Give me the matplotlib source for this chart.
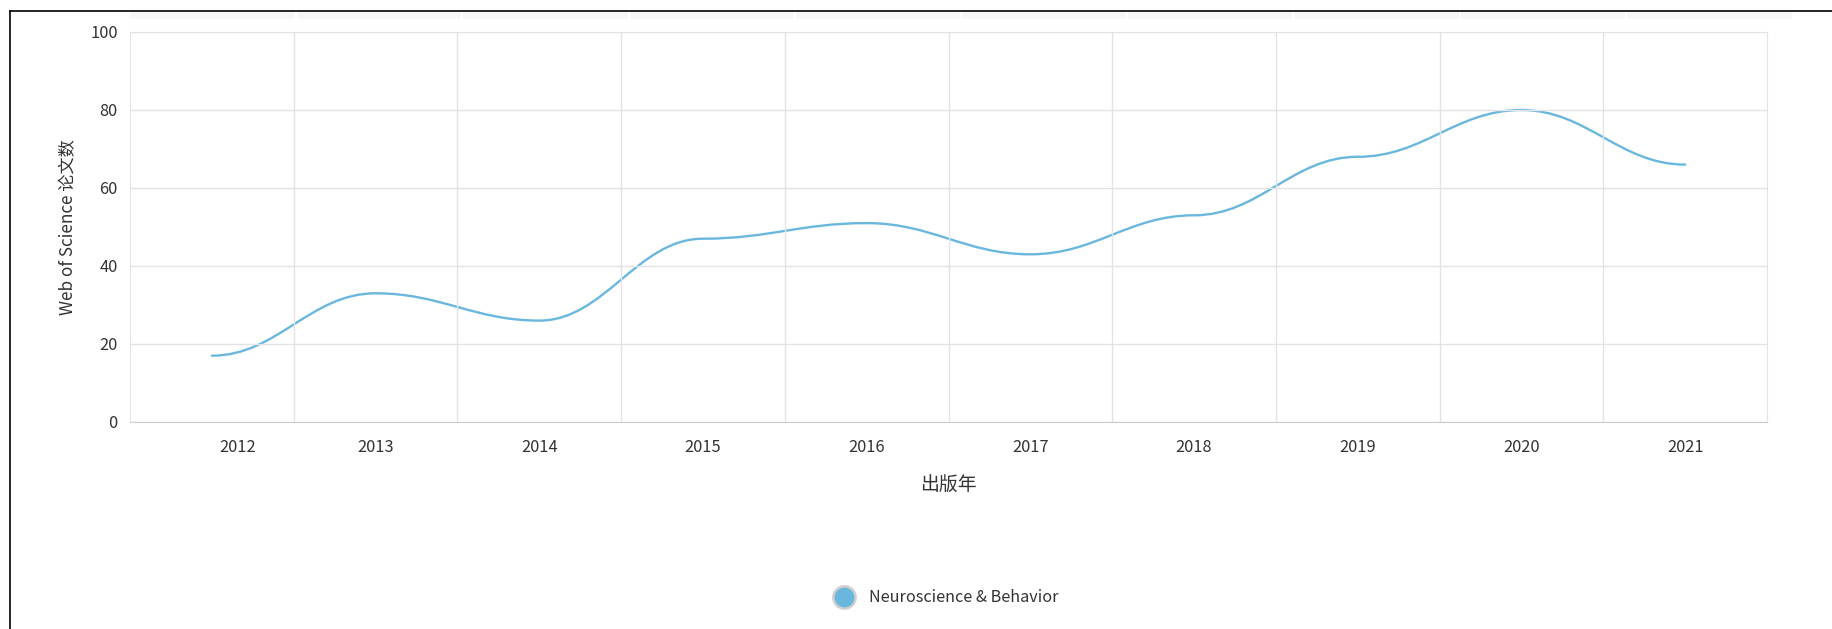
import matplotlib
matplotlib.use('Agg')
import matplotlib.pyplot as plt
from matplotlib.path import Path
from matplotlib.patches import PathPatch
from matplotlib.lines import Line2D
from matplotlib.transforms import ScaledTranslation

plt.rcParams['font.family'] = ['Noto Sans CJK SC', 'DejaVu Sans']

years = ['2012', '2013', '2014', '2015', '2016', '2017', '2018', '2019', '2020', '2021']
papers = [17, 33, 26, 47, 51, 43, 53, 68, 80, 66]
series_name = 'Neuroscience & Behavior'
y_ticks = [0, 20, 40, 60, 80, 100]

W, H = 1833, 629
line_color = '#6ab7de'
text_color = '#333333'


def smooth_path(xs, ys, k=0.4):
    # bezier segments with flat tangents at every data point
    verts = [(xs[0], ys[0])]
    codes = [Path.MOVETO]
    for i in range(1, len(xs)):
        dx = xs[i] - xs[i - 1]
        verts += [(xs[i - 1] + k * dx, ys[i - 1]),
                  (xs[i] - k * dx, ys[i]),
                  (xs[i], ys[i])]
        codes += [Path.CURVE4] * 3
    return Path(verts, codes)


fig = plt.figure(figsize=(W / 100, H / 100), dpi=100)

# outer frame (top and left edges)
fig.add_artist(Line2D([10 / W, 1], [1 - 11 / H, 1 - 11 / H], color='black', lw=1.2))
fig.add_artist(Line2D([10 / W, 10 / W], [0, 1 - 11 / H], color='black', lw=1.2))

# faint strip at the top
strip = fig.add_axes([130 / W, 1 - 19 / H, (1792 - 130) / W, 7 / H])
strip.set_facecolor('#f6f6f6')
strip.set_xlim(0, len(years))
for k in range(1, len(years)):
    strip.axvline(k, color='#ffffff', lw=1.5)
strip.set_xticks([])
strip.set_yticks([])
for s in strip.spines.values():
    s.set_visible(False)

ax = fig.add_axes([130 / W, 1 - 422 / H, (1767 - 130) / W, (422 - 32) / H])
xs = list(range(len(years)))
ax.add_patch(PathPatch(smooth_path(xs, papers), facecolor='none',
                       edgecolor=line_color, lw=1.7, capstyle='round'))
ax.set_xlim(-0.5, len(years) - 0.5)
ax.set_ylim(y_ticks[0], y_ticks[-1])

ax.set_yticks(y_ticks)
ax.set_xticks(xs)
ax.set_xticklabels(years)
ax.set_xticks([x + 0.5 for x in xs[:-1]], minor=True)
ax.grid(True, which='minor', axis='x', color='#e3e3e3', lw=1)
ax.grid(True, which='major', axis='y', color='#e3e3e3', lw=1)
ax.tick_params(axis='both', which='both', length=0, labelsize=11.8, colors=text_color)
ax.tick_params(axis='y', pad=9)
ax.tick_params(axis='x', pad=12.5)
for s in ['top', 'right']:
    ax.spines[s].set_color('#e3e3e3')
ax.spines['left'].set_color('#dfe5ee')
ax.spines['bottom'].set_color('#cccccc')

# the first year label sits a bit to the right in the original
lab0 = ax.get_xticklabels()[0]
lab0.set_transform(lab0.get_transform() + ScaledTranslation(0.26, 0, fig.dpi_scale_trans))

ax.set_ylabel('Web of Science 论文数', fontsize=12.3, color=text_color, labelpad=9.5)
ax.set_xlabel('出版年', fontsize=13.6, color=text_color, labelpad=13)

handle = Line2D([], [], linestyle='none', marker='o', markersize=16,
                markerfacecolor=line_color, markeredgecolor='#cfcfcf', markeredgewidth=1.8)
fig.legend([handle], [series_name], loc='center', bbox_to_anchor=(943 / W, 1 - 598 / H),
           frameon=False, fontsize=11.7, handletextpad=0.55, labelcolor=text_color)

fig.savefig('out.png', dpi=100, facecolor='white')
